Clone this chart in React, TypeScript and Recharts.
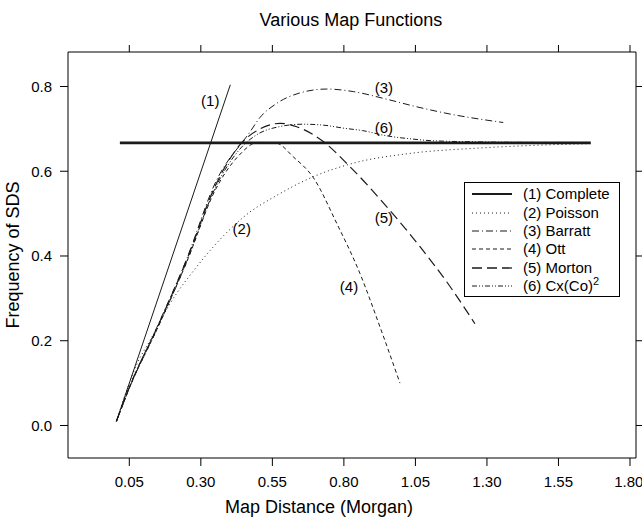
import { ComposedChart, Line, Scatter, XAxis, YAxis, Legend } from "recharts";

// Various map functions: frequency of SDS against map distance (Morgan).
const xTicks = [0.05, 0.3, 0.55, 0.8, 1.05, 1.3, 1.55, 1.8];
const yTicks = [0, 0.2, 0.4, 0.6, 0.8];

const completeRise = [
  { x: 0.005, y: 0.01 },
  { x: 0.403, y: 0.804 },
];
const completeLimit = [
  { x: 0.017, y: 0.667 },
  { x: 1.663, y: 0.667 },
];
const poisson = [
  { x: 0.005, y: 0.01 },
  { x: 0.08, y: 0.15 },
  { x: 0.122, y: 0.2 },
  { x: 0.19, y: 0.285 },
  { x: 0.286, y: 0.375 },
  { x: 0.402, y: 0.463 },
  { x: 0.47, y: 0.503 },
  { x: 0.55, y: 0.537 },
  { x: 0.693, y: 0.587 },
  { x: 0.833, y: 0.619 },
  { x: 1.03, y: 0.642 },
  { x: 1.28, y: 0.655 },
  { x: 1.5, y: 0.662 },
  { x: 1.66, y: 0.665 },
];
const barratt = [
  { x: 0.005, y: 0.01 },
  { x: 0.05, y: 0.09 },
  { x: 0.15, y: 0.237 },
  { x: 0.25, y: 0.392 },
  { x: 0.35, y: 0.572 },
  { x: 0.472, y: 0.693 },
  { x: 0.507, y: 0.727 },
  { x: 0.565, y: 0.76 },
  { x: 0.647, y: 0.785 },
  { x: 0.74, y: 0.794 },
  { x: 0.833, y: 0.788 },
  { x: 0.938, y: 0.772 },
  { x: 1.055, y: 0.752 },
  { x: 1.171, y: 0.735 },
  { x: 1.357, y: 0.715 },
];
const ott = [
  { x: 0.005, y: 0.01 },
  { x: 0.05, y: 0.088 },
  { x: 0.15, y: 0.232 },
  { x: 0.25, y: 0.385 },
  { x: 0.35, y: 0.555 },
  { x: 0.43, y: 0.635 },
  { x: 0.5, y: 0.668 },
  { x: 0.565, y: 0.666 },
  { x: 0.623, y: 0.634 },
  { x: 0.693, y: 0.585 },
  { x: 0.775, y: 0.477 },
  { x: 0.856, y: 0.359 },
  { x: 0.926, y: 0.233 },
  { x: 0.996, y: 0.1 },
];
const morton = [
  { x: 0.005, y: 0.01 },
  { x: 0.05, y: 0.09 },
  { x: 0.15, y: 0.235 },
  { x: 0.25, y: 0.39 },
  { x: 0.35, y: 0.565 },
  { x: 0.44, y: 0.665 },
  { x: 0.507, y: 0.7 },
  { x: 0.577, y: 0.713 },
  { x: 0.635, y: 0.705 },
  { x: 0.728, y: 0.67 },
  { x: 0.821, y: 0.611 },
  { x: 0.95, y: 0.516 },
  { x: 1.066, y: 0.422 },
  { x: 1.171, y: 0.328 },
  { x: 1.258, y: 0.24 },
];
const cxco2 = [
  { x: 0.005, y: 0.01 },
  { x: 0.05, y: 0.088 },
  { x: 0.15, y: 0.232 },
  { x: 0.25, y: 0.385 },
  { x: 0.35, y: 0.56 },
  { x: 0.44, y: 0.655 },
  { x: 0.5, y: 0.688 },
  { x: 0.573, y: 0.705 },
  { x: 0.655, y: 0.711 },
  { x: 0.725, y: 0.709 },
  { x: 0.806, y: 0.701 },
  { x: 0.865, y: 0.696 },
  { x: 0.946, y: 0.684 },
  { x: 1.04, y: 0.676 },
  { x: 1.109, y: 0.672 },
  { x: 1.3, y: 0.669 },
  { x: 1.5, y: 0.668 },
  { x: 1.66, y: 0.668 },
];

const curveLabels = [
  { x: 0.333, y: 0.766, label: "(1)" },
  { x: 0.443, y: 0.465, label: "(2)" },
  { x: 0.94, y: 0.797, label: "(3)" },
  { x: 0.818, y: 0.329, label: "(4)" },
  { x: 0.94, y: 0.49, label: "(5)" },
  { x: 0.94, y: 0.703, label: "(6)" },
];

const legendNames = ["(1) Complete", "(2) Poisson", "(3) Barratt", "(4) Ott", "(5) Morton", "(6) Cx(Co)"];

const FONT = "'Liberation Sans', Arial, Helvetica, sans-serif";
const INK = "#1a1a1a";
const X_DOMAIN = [-0.1643, 1.821];
const Y_DOMAIN = [-0.0767, 0.8814];

const dashes = ["", "1 3", "7 3 1 3", "4 3", "10 5", "5 2 1 2 1 2"];
const widths = [2.2, 1, 1, 1, 1.3, 1];

const renderLabel = (p: any) => (
  <text
    x={p.cx}
    y={p.cy}
    textAnchor="middle"
    dominantBaseline="central"
    fontSize={15}
    fontFamily={FONT}
    fill="#000"
  >
    {p.payload.label}
  </text>
);

const renderLegend = () => (
  <div
    style={{
      border: "1px solid #000",
      background: "#fff",
      boxSizing: "border-box",
      width: 156,
      height: 115,
      padding: "2px 0 0 7px",
      fontFamily: FONT,
      fontSize: 15,
      color: "#000",
    }}
  >
    {legendNames.map((name, i) => (
      <div key={name} style={{ display: "flex", alignItems: "center", height: 18.4 }}>
        <svg width={40} height={10} style={{ marginRight: 11 }}>
          <line
            x1={0}
            x2={40}
            y1={5}
            y2={5}
            stroke={INK}
            strokeWidth={widths[i]}
            strokeDasharray={dashes[i] || undefined}
          />
        </svg>
        <span style={{ whiteSpace: "nowrap", lineHeight: "18px" }}>
          {name}
          {i === 5 && <sup style={{ fontSize: 11, verticalAlign: "6px", lineHeight: 0 }}>2</sup>}
        </span>
      </div>
    ))}
  </div>
);

export default function App() {
  const tickStyle = { fontSize: 15, fontFamily: FONT, fill: "#000" };
  const axisStroke = { stroke: "#000" };
  return (
    <div style={{ position: "absolute", left: 0, top: 0, width: 642, height: 518, overflow: "hidden", background: "#fff" }}>
      <div
        style={{
          position: "absolute",
          left: 0,
          top: 10,
          width: 702,
          textAlign: "center",
          fontFamily: FONT,
          fontSize: 18,
          color: "#000",
        }}
      >
        Various Map Functions
      </div>
      <ComposedChart width={642} height={518} margin={{ top: 51, right: 5, bottom: 0, left: 0 }}>
        <XAxis
          type="number"
          dataKey="x"
          domain={X_DOMAIN}
          allowDataOverflow
          ticks={xTicks}
          tickFormatter={(v: number) => v.toFixed(2)}
          height={60}
          tickSize={8}
          tickMargin={10}
          tick={tickStyle}
          axisLine={axisStroke}
          tickLine={axisStroke}
          label={{
            value: "Map Distance (Morgan)",
            position: "insideBottom",
            offset: 5,
            dx: -33,
            style: { fontSize: 18, fontFamily: FONT, fill: "#000" },
          }}
        />
        <XAxis
          xAxisId="top"
          orientation="top"
          type="number"
          dataKey="x"
          domain={X_DOMAIN}
          allowDataOverflow
          ticks={xTicks}
          tickFormatter={() => ""}
          height={1}
          tickSize={7}
          axisLine={axisStroke}
          tickLine={axisStroke}
        />
        <YAxis
          type="number"
          domain={Y_DOMAIN}
          allowDataOverflow
          ticks={yTicks}
          tickFormatter={(v: number) => v.toFixed(1)}
          width={68}
          tickSize={8}
          tickMargin={8}
          tick={tickStyle}
          axisLine={axisStroke}
          tickLine={axisStroke}
          label={{
            value: "Frequency of SDS",
            angle: -90,
            position: "insideLeft",
            offset: 13,
            style: { fontSize: 18, fontFamily: FONT, fill: "#000", textAnchor: "middle" },
          }}
        />
        <YAxis
          yAxisId="right"
          orientation="right"
          type="number"
          domain={Y_DOMAIN}
          allowDataOverflow
          ticks={yTicks}
          tickFormatter={() => ""}
          width={1}
          tickSize={6}
          axisLine={axisStroke}
          tickLine={axisStroke}
        />
        <Legend
          layout="vertical"
          align="center"
          verticalAlign="middle"
          content={renderLegend}
          wrapperStyle={{ left: 464, top: 182, width: 156, height: 115 }}
        />
        <Line data={completeRise} dataKey="y" type="linear" stroke={INK} strokeWidth={1} dot={false} isAnimationActive={false} />
        <Line data={completeLimit} dataKey="y" type="linear" stroke={INK} strokeWidth={2.6} dot={false} isAnimationActive={false} />
        <Line data={poisson} dataKey="y" type="monotone" stroke={INK} strokeWidth={1} strokeDasharray={dashes[1]} dot={false} isAnimationActive={false} />
        <Line data={barratt} dataKey="y" type="monotone" stroke={INK} strokeWidth={1} strokeDasharray={dashes[2]} dot={false} isAnimationActive={false} />
        <Line data={ott} dataKey="y" type="monotone" stroke={INK} strokeWidth={1} strokeDasharray={dashes[3]} dot={false} isAnimationActive={false} />
        <Line data={morton} dataKey="y" type="monotone" stroke={INK} strokeWidth={1.2} strokeDasharray={dashes[4]} dot={false} isAnimationActive={false} />
        <Line data={cxco2} dataKey="y" type="monotone" stroke={INK} strokeWidth={1} strokeDasharray={dashes[5]} dot={false} isAnimationActive={false} />
        <Scatter
          data={curveLabels}
          dataKey="y"
          xAxisId="top"
          yAxisId="right"
          shape={renderLabel}
          isAnimationActive={false}
        />
      </ComposedChart>
    </div>
  );
}
